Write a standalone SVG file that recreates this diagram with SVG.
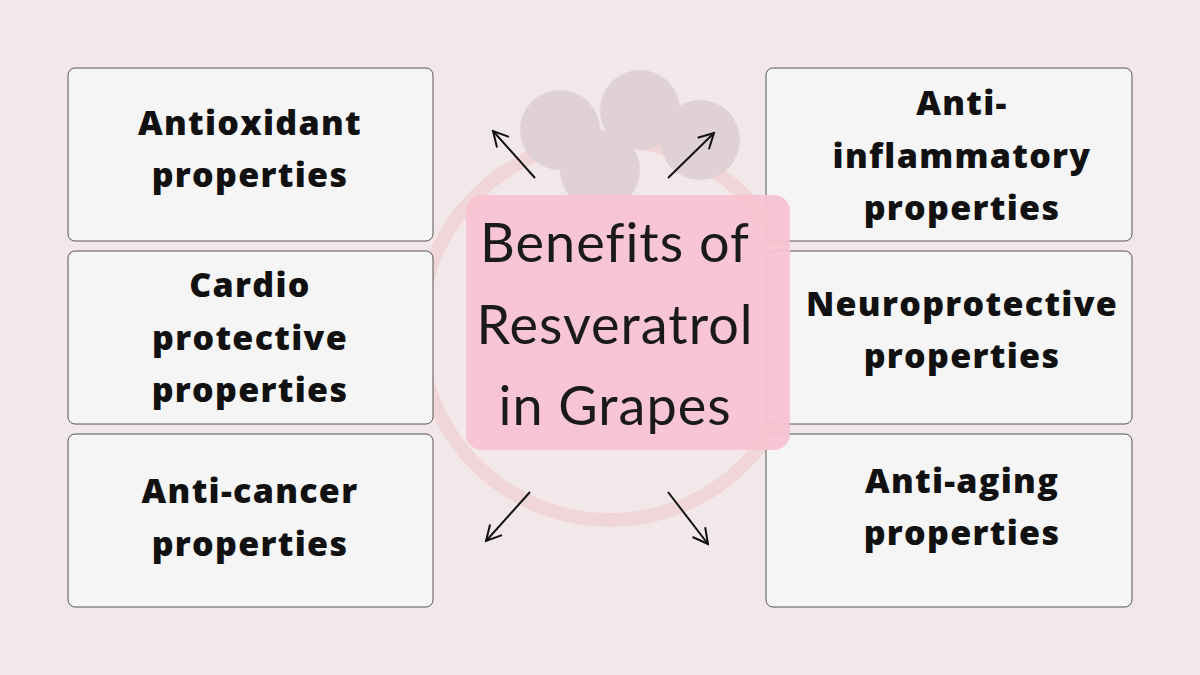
<svg xmlns="http://www.w3.org/2000/svg" width="1200" height="675" viewBox="0 0 1200 675">
<defs>
<marker id="ah" viewBox="0 0 20 20" refX="18" refY="10" markerWidth="20" markerHeight="20" markerUnits="userSpaceOnUse" orient="auto"><path d="M3,2 L18,10 L3,18" fill="none" stroke="#111" stroke-width="2"/></marker>
<style>
.box{fill:#f5f5f5;stroke:#555;stroke-width:1}
.t{font-family:"Open Sans","Noto Sans",sans-serif;font-weight:800;font-size:34px;fill:#111;text-anchor:middle;letter-spacing:1.3px}
.c{font-family:"Lato","Open Sans",sans-serif;font-size:54px;fill:#1a1a1a;text-anchor:middle;letter-spacing:1px}
.ar{stroke:#111;stroke-width:2;fill:none;marker-end:url(#ah)}
</style>
</defs>
<rect width="1200" height="675" fill="#f3e8e9"/>
<g opacity="0.12">
<circle cx="610" cy="330" r="190" fill="none" stroke="#e05a6a" stroke-width="14"/>
<circle cx="560" cy="130" r="40" fill="#5a3550"/><circle cx="640" cy="110" r="40" fill="#5a3550"/><circle cx="700" cy="140" r="40" fill="#5a3550"/><circle cx="600" cy="170" r="40" fill="#5a3550"/>
</g>
<g id="n1"><rect class="box" x="68" y="68" width="365" height="173" rx="7"/><text class="t" x="250" y="135">Antioxidant</text><text class="t" x="250" y="187">properties</text></g>
<g id="n2"><rect class="box" x="68" y="251" width="365" height="173" rx="7"/><text class="t" x="250" y="297">Cardio</text><text class="t" x="250" y="350">protective</text><text class="t" x="250" y="402">properties</text></g>
<g id="n3"><rect class="box" x="68" y="434" width="365" height="173" rx="7"/><text class="t" x="250" y="503">Anti-cancer</text><text class="t" x="250" y="556">properties</text></g>
<g id="n4"><rect class="box" x="766" y="68" width="366" height="173" rx="7"/><text class="t" x="962" y="115">Anti-</text><text class="t" x="962" y="168">inflammatory</text><text class="t" x="962" y="220">properties</text></g>
<g id="n5"><rect class="box" x="766" y="251" width="366" height="173" rx="7"/><text class="t" x="962" y="316">Neuroprotective</text><text class="t" x="962" y="368">properties</text></g>
<g id="n6"><rect class="box" x="766" y="434" width="366" height="173" rx="7"/><text class="t" x="962" y="493">Anti-aging</text><text class="t" x="962" y="545">properties</text></g>
<g id="center"><rect x="466" y="195" width="324" height="255" rx="16" fill="#f7c3d2" opacity="0.95"/><text class="c" x="615" y="262">Benefits of</text><text class="c" x="615" y="344">Resveratrol</text><text class="c" x="615" y="425">in Grapes</text></g>
<g id="connectors">
<line class="ar" x1="535" y1="178" x2="493" y2="131"/>
<line class="ar" x1="668" y1="178" x2="714" y2="133"/>
<line class="ar" x1="530" y1="492" x2="486" y2="541"/>
<line class="ar" x1="668" y1="492" x2="708" y2="544"/>
</g>
</svg>
